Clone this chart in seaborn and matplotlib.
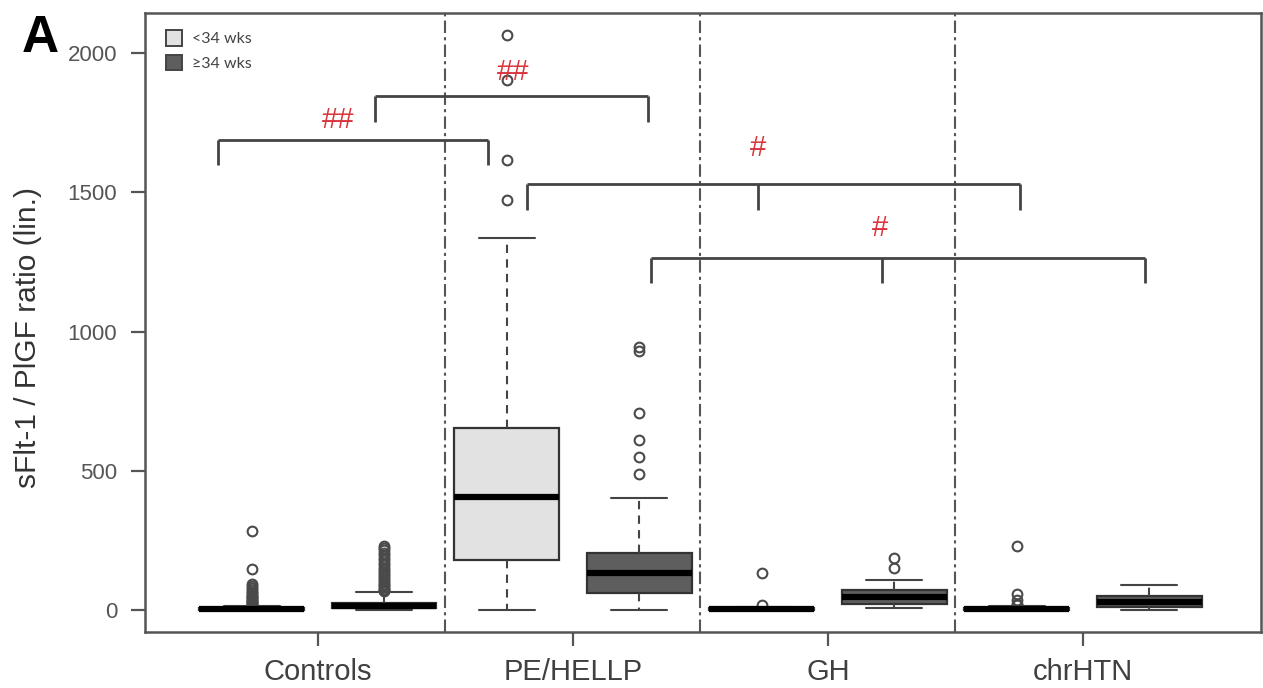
import matplotlib
matplotlib.use("Agg")
import matplotlib.pyplot as plt
from matplotlib.patches import Patch
import seaborn as sns

# data (sFlt-1 / PlGF ratio, linear)
groups = ["Controls", "PE/HELLP", "GH", "chrHTN"]
ga_labels = ["<34 wks", "\u226534 wks"]

# one entry per box: Controls<34, Controls>=34, PE<34, PE>=34, GH<34, GH>=34, chrHTN<34, chrHTN>=34
q1 = [1, 8, 178, 60, 1, 22, 1, 12]
median = [3, 16, 405, 133, 3, 45, 3, 30]
q3 = [7, 26, 655, 203, 6, 72, 6, 52]
whisk_lo = [0, 1, 0, 0, 0, 7, 0, 0]
whisk_hi = [16, 65, 1336, 402, 12, 108, 14, 90]
fliers = [
    [18, 21, 24, 27, 31, 34, 38, 42, 46, 50, 55, 60, 66, 72, 79, 86, 93, 148, 285],
    [68, 72, 77, 82, 88, 94, 100, 107, 114, 121, 128, 136, 144, 152, 160, 169, 178,
     187, 196, 205, 214, 222, 230],
    [1472, 1615, 1903, 2065],
    [488, 549, 610, 707, 930, 943],
    [18, 133],
    [150, 188],
    [18, 22, 36, 57, 230],
    [],
]

# significance brackets: (legs x, bar y, leg bottom y, label, label x, label y)
brackets = [
    ([-0.392, 0.667], 1688, 1598, "##", 0.078, 1760),
    ([0.224, 1.294], 1846, 1752, "##", 0.765, 1932),
    ([0.820, 1.725, 2.753], 1530, 1436, "#", 1.725, 1659),
    ([1.306, 2.212, 3.243], 1264, 1174, "#", 2.204, 1372),
]

sns.set_theme(style="ticks")
plt.rcParams["font.family"] = ["Liberation Sans", "DejaVu Sans"]

grey = "#555555"
fills = ["#e2e2e2", "#5e5e5e"]

fig = plt.figure(figsize=(12.63, 6.88), dpi=100)
ax = fig.add_axes([0.1148, 0.0814, 0.8836, 0.8997])

offset = 0.26
positions = []
stats = []
for i in range(len(q1)):
    g, h = divmod(i, 2)
    positions.append(g + (offset if h else -offset))
    stats.append(dict(q1=q1[i], med=median[i], q3=q3[i], whislo=whisk_lo[i],
                      whishi=whisk_hi[i], fliers=fliers[i]))

bp = ax.bxp(stats, positions=positions, widths=0.41, patch_artist=True,
            boxprops=dict(edgecolor="#333333", linewidth=1.6),
            medianprops=dict(color="black", linewidth=4.5),
            whiskerprops=dict(color="#444444", linewidth=1.5, linestyle=(0, (4, 3))),
            capprops=dict(color="#444444", linewidth=1.5),
            flierprops=dict(marker="o", markersize=7, markerfacecolor="none",
                            markeredgecolor="#4a4a4a", markeredgewidth=1.5))
for i, box in enumerate(bp["boxes"]):
    box.set_facecolor(fills[i % 2])
for cap in bp["caps"]:
    x0, x1 = cap.get_xdata()
    c = (x0 + x1) / 2
    cap.set_xdata([c - 0.11, c + 0.11])

# group separators
for s in [0.5, 1.5, 2.5]:
    ax.axvline(s, color="#555555", linewidth=1.5, linestyle=(0, (6, 2, 1.5, 2)), zorder=1)

# significance brackets
for legs, ybar, ylow, lab, lx, ly in brackets:
    ax.plot([legs[0], legs[-1]], [ybar, ybar], color="#444444", linewidth=2, solid_capstyle="butt")
    for xl in legs:
        ax.plot([xl, xl], [ybar, ylow], color="#444444", linewidth=2, solid_capstyle="butt")
    ax.text(lx, ly, lab, color="#d8353c", fontsize=21, ha="center", va="center")

ax.set_xlim(-0.678, 3.698)
ax.set_ylim(-79, 2144)
ax.set_xticks(range(len(groups)))
ax.set_xticklabels(groups, fontsize=21, color="#404040")
ax.set_yticks([0, 500, 1000, 1500, 2000])
ax.set_yticklabels(["0", "500", "1000", "1500", "2000"], fontsize=16, color="#555555")
ax.tick_params(axis="y", length=10, width=1.6, color=grey, pad=10)
ax.tick_params(axis="x", length=10, width=1.6, color=grey, pad=9)
ax.set_ylabel("sFlt-1 / PlGF ratio (lin.)", fontsize=21.5, color="#333333")
ax.yaxis.set_label_coords(-0.0923, 0.475)
for sp in ax.spines.values():
    sp.set_color(grey)
    sp.set_linewidth(1.8)

handles = [Patch(facecolor=fills[0], edgecolor="#444444", linewidth=1.4),
           Patch(facecolor=fills[1], edgecolor="#444444", linewidth=1.4)]
ax.legend(handles, ga_labels, loc="upper left", bbox_to_anchor=(0.012, 0.985),
          frameon=False, handlelength=1.0, handleheight=1.1,
          handletextpad=0.6, labelspacing=0.55, borderpad=0,
          prop=dict(family=["Lato", "DejaVu Sans"], size=11.5), labelcolor="#444444")

fig.text(0.0174, 0.9244, "A", fontsize=37, fontweight="bold", color="black", va="baseline")

fig.savefig("out.png", dpi=100)
